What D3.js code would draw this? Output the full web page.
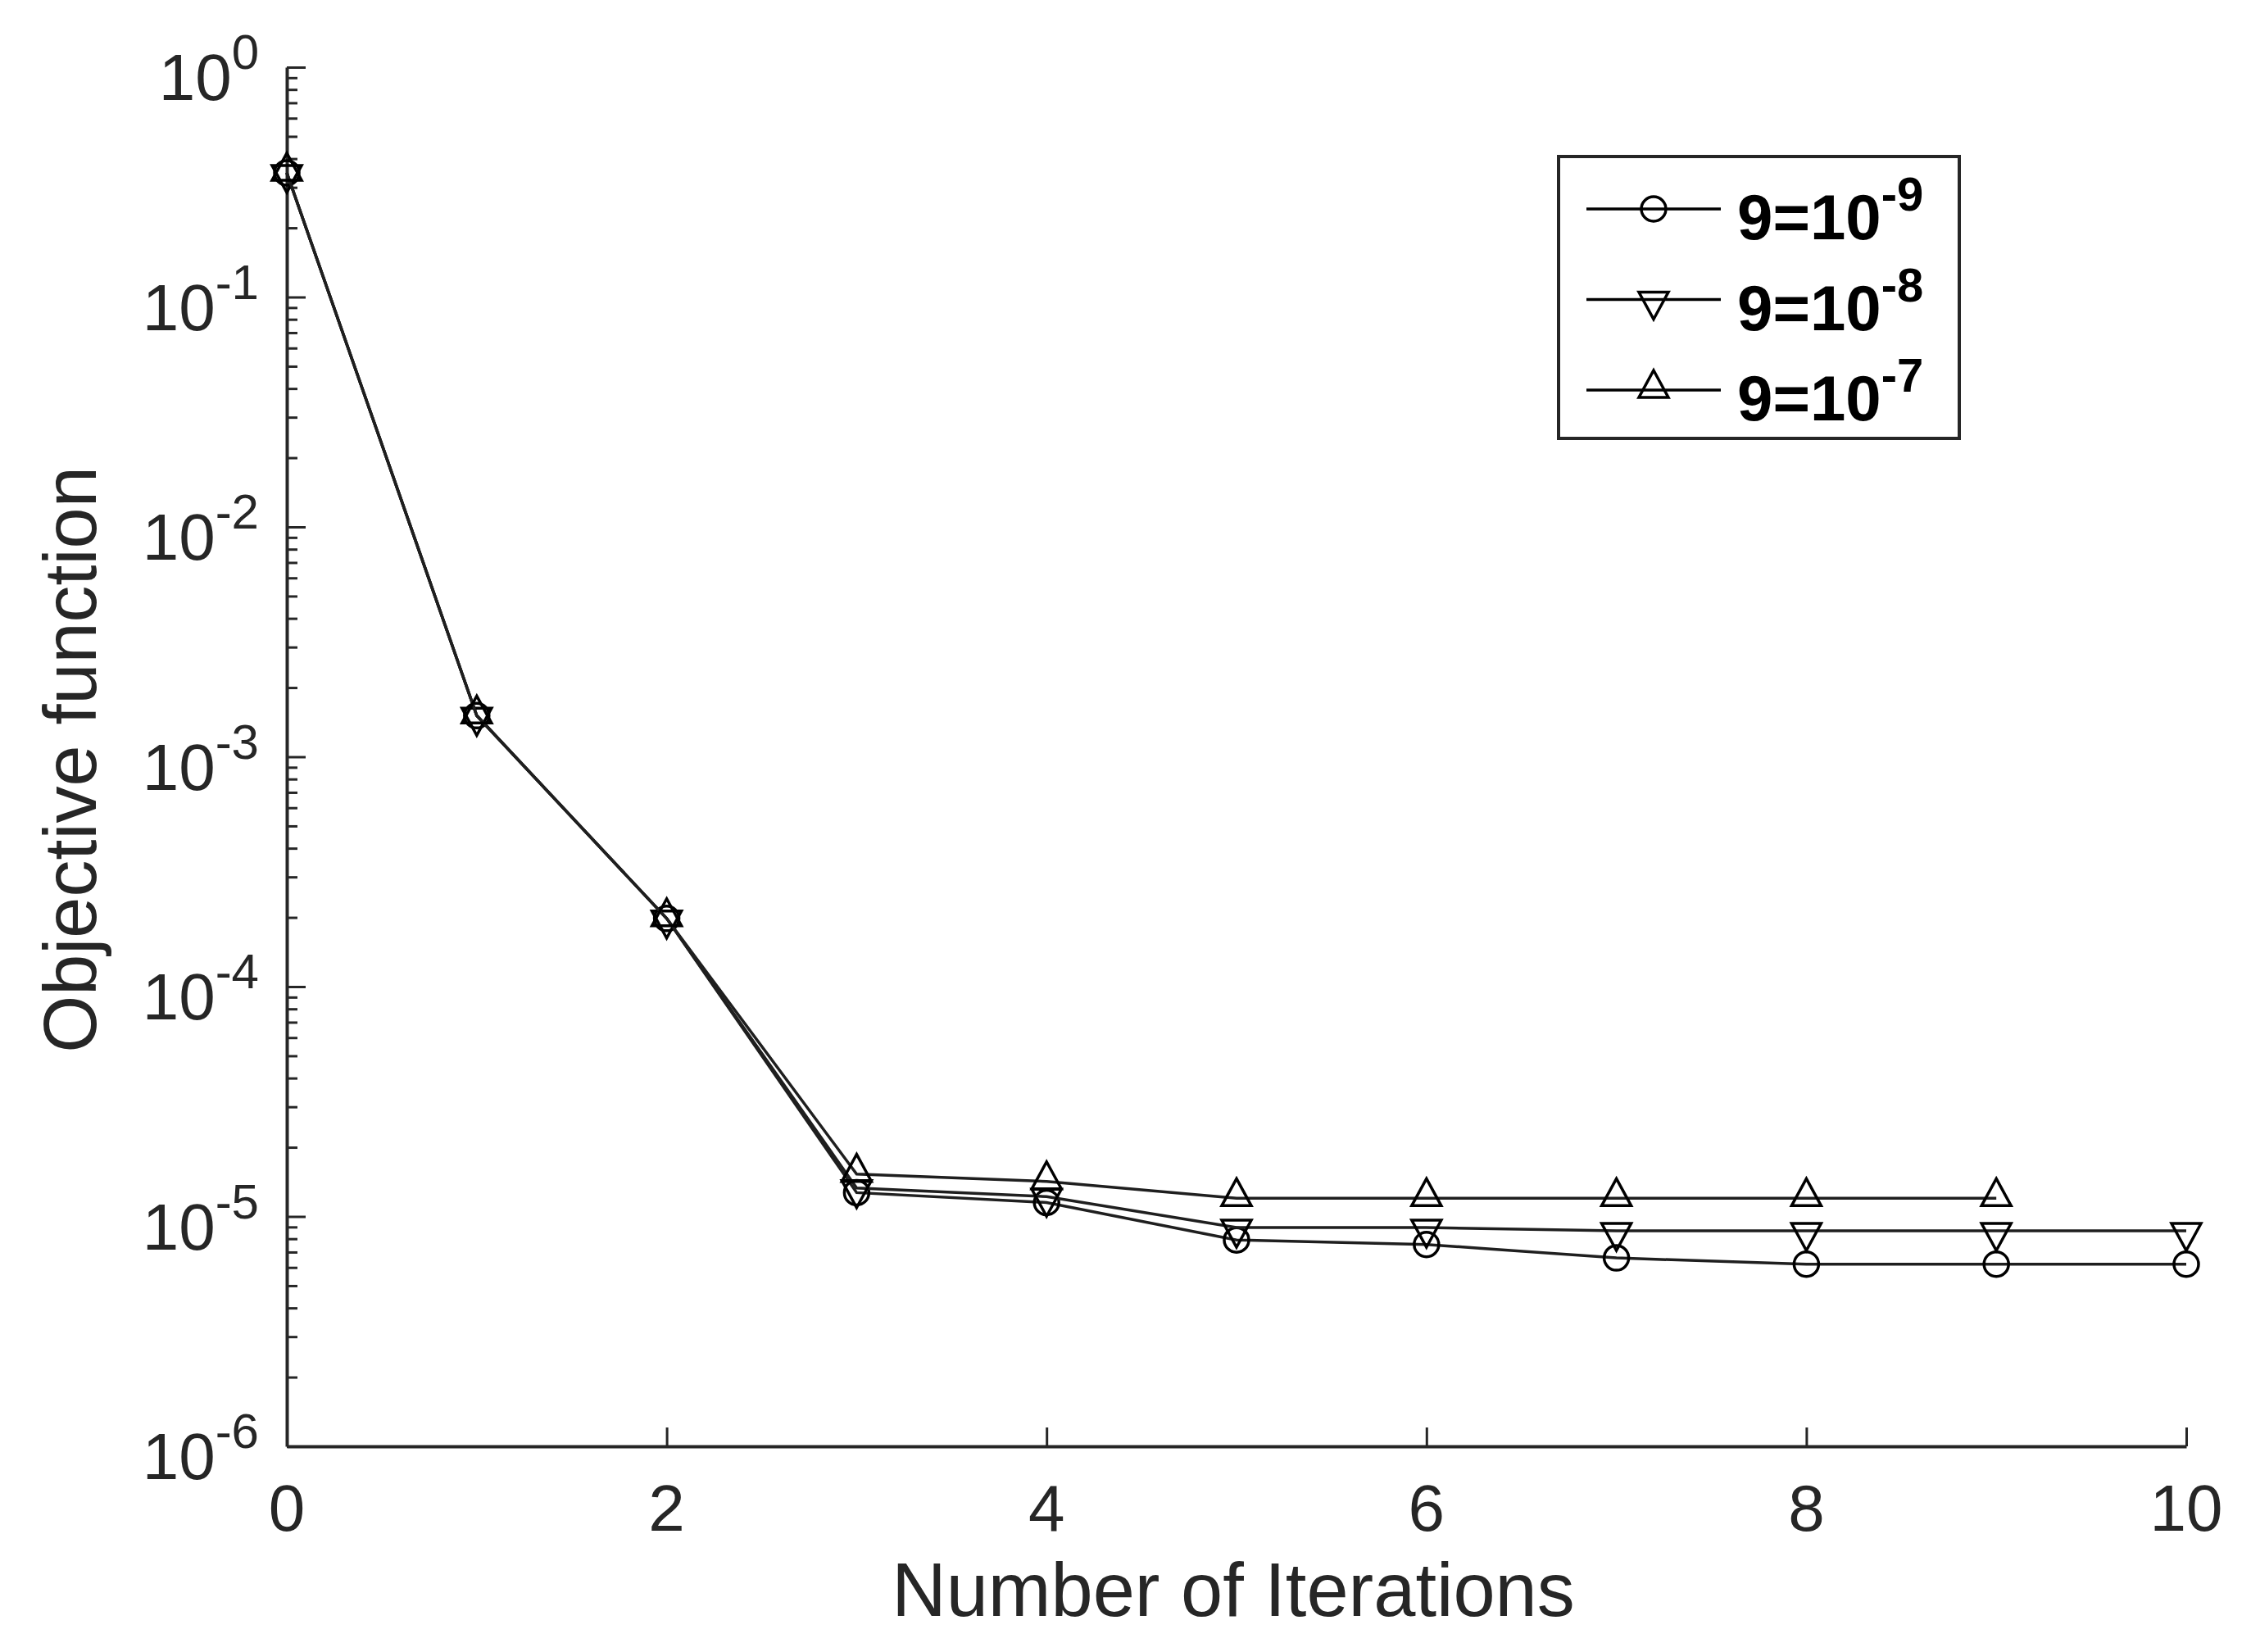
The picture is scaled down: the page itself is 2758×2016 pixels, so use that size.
<!DOCTYPE html>
<html>
<head>
<meta charset="utf-8">
<script src="https://cdn.jsdelivr.net/npm/d3@7/dist/d3.min.js"></script>
<style>
  body { margin: 0; background: #fff; }
  svg { display: block; }
  text { font-family: "Liberation Sans", Arial, sans-serif; fill: #262626; }
</style>
</head>
<body>
<svg id="chart" width="2758" height="2016"></svg>
<script>
// Values
var iterations = [0, 1, 2, 3, 4, 5, 6, 7, 8, 9, 10];
var legendExps = ["-9", "-8", "-7"];
var markerKinds = ["circle", "down", "up"];

// theta = 1e-9 (circles)
var valsE9 = [0.347, 1.51e-3, 1.98e-4, 1.27e-5, 1.15e-5, 7.9e-6, 7.55e-6, 6.6e-6, 6.2e-6, 6.2e-6, 6.2e-6];
// theta = 1e-8 (down triangles)
var valsE8 = [0.347, 1.51e-3, 1.98e-4, 1.33e-5, 1.22e-5, 8.95e-6, 8.95e-6, 8.66e-6, 8.66e-6, 8.66e-6, 8.66e-6];
// theta = 1e-7 (up triangles), stops at iteration 9
var valsE7 = [0.347, 1.51e-3, 1.98e-4, 1.53e-5, 1.42e-5, 1.2e-5, 1.2e-5, 1.2e-5, 1.2e-5, 1.2e-5];

var xTickValues = [0, 2, 4, 6, 8, 10];
var yTickExps = [0, -1, -2, -3, -4, -5, -6];

var svg = d3.select("#chart");

var x = d3.scaleLinear().domain([0, 10]).range([350, 2668]);
var y = d3.scaleLog().domain([1e-6, 1]).range([1765, 82]);

// marker path centred on 0,0
function markerPath(kind) {
  if (kind === "circle") {
    var p = d3.path();
    p.arc(0, 0, 15, 0, 2 * Math.PI);
    return p.toString();
  }
  if (kind === "up") return "M0,-24L18,9L-18,9Z";
  return "M0,24L18,-9L-18,-9Z";
}

// minor y ticks (2..9 in each decade)
var minor = [];
yTickExps.slice(1).forEach(function(e) {
  for (var k = 2; k <= 9; k++) minor.push(k * Math.pow(10, e));
});

var axisCol = "#262626";

svg.append("g")
  .attr("transform", "translate(350,0)")
  .call(d3.axisLeft(y).tickValues(minor).tickSize(-13).tickSizeOuter(0).tickFormat(""))
  .call(function(g) {
    g.select(".domain").remove();
    g.selectAll("line").attr("stroke", axisCol).attr("stroke-width", 3);
  });

svg.append("g")
  .attr("transform", "translate(350,0)")
  .call(d3.axisLeft(y).tickValues(yTickExps.map(function(e) { return Math.pow(10, e); }))
    .tickSize(-23).tickSizeOuter(0).tickFormat(""))
  .call(function(g) {
    g.select(".domain").attr("stroke", axisCol).attr("stroke-width", 4);
    g.selectAll("line").attr("stroke", axisCol).attr("stroke-width", 3);
  });

svg.append("g")
  .attr("transform", "translate(0,1765)")
  .call(d3.axisBottom(x).tickValues(xTickValues).tickSize(-23).tickSizeOuter(0).tickFormat(""))
  .call(function(g) {
    g.select(".domain").attr("stroke", axisCol).attr("stroke-width", 4);
    g.selectAll("line").attr("stroke", axisCol).attr("stroke-width", 3);
  });

// y tick labels 10^e
var yLab = svg.append("g").selectAll("text")
  .data(yTickExps)
  .enter().append("text")
  .attr("x", 316)
  .attr("y", function(e) { return y(Math.pow(10, e)) + 40; })
  .attr("text-anchor", "end")
  .attr("font-size", 80)
  .text("10");
yLab.append("tspan")
  .attr("dy", -38)
  .attr("font-size", 60)
  .text(function(e) { return e === 0 ? "0" : "-" + (-e); });

// x tick labels
svg.append("g").selectAll("text")
  .data(xTickValues)
  .enter().append("text")
  .attr("x", function(d) { return x(d); })
  .attr("y", 1868)
  .attr("text-anchor", "middle")
  .attr("font-size", 80)
  .text(function(d) { return d; });

// axis titles
svg.append("text")
  .attr("x", 1505).attr("y", 1972)
  .attr("text-anchor", "middle")
  .attr("font-size", 92)
  .text("Number of Iterations");

svg.append("text")
  .attr("transform", "translate(117,927) rotate(-90)")
  .attr("text-anchor", "middle")
  .attr("font-size", 90)
  .text("Objective function");

// series
var series = [valsE9, valsE8, valsE7].map(function(vals, i) {
  return {
    kind: markerKinds[i],
    pts: vals.map(function(v, j) { return { it: iterations[j], v: v }; })
  };
});

var line = d3.line()
  .x(function(d) { return x(d.it); })
  .y(function(d) { return y(d.v); });

var sg = svg.append("g").selectAll("g")
  .data(series)
  .enter().append("g");

sg.append("path")
  .attr("d", function(s) { return line(s.pts); })
  .attr("fill", "none")
  .attr("stroke", "#1f1f1f")
  .attr("stroke-width", 3.5);

sg.each(function(s) {
  d3.select(this).selectAll("path.mk")
    .data(s.pts)
    .enter().append("path")
    .attr("class", "mk")
    .attr("transform", function(d) { return "translate(" + x(d.it) + "," + y(d.v) + ")"; })
    .attr("d", markerPath(s.kind))
    .attr("fill", "none")
    .attr("stroke", "#000")
    .attr("stroke-width", 3.5);
});

// legend
var lg = svg.append("g");
lg.append("rect")
  .attr("x", 1902).attr("y", 191)
  .attr("width", 489).attr("height", 344)
  .attr("fill", "#fff")
  .attr("stroke", axisCol)
  .attr("stroke-width", 4);

var rows = lg.selectAll("g.row")
  .data(legendExps)
  .enter().append("g")
  .attr("class", "row")
  .attr("transform", function(d, i) { return "translate(0," + (255 + i * 110.5) + ")"; });

rows.append("line")
  .attr("x1", 1936).attr("x2", 2100)
  .attr("stroke", "#000").attr("stroke-width", 3.5);

rows.append("path")
  .attr("transform", "translate(2018,0)")
  .attr("d", function(d, i) { return markerPath(markerKinds[i]); })
  .attr("fill", "none")
  .attr("stroke", "#000")
  .attr("stroke-width", 3.5);

var lt = rows.append("text")
  .attr("x", 2120).attr("y", 37)
  .attr("font-size", 78)
  .attr("font-weight", "bold")
  .style("fill", "#000")
  .text("9=10");
lt.append("tspan")
  .attr("dy", -35)
  .attr("font-size", 58)
  .text(function(d) { return d; });
</script>
</body>
</html>
